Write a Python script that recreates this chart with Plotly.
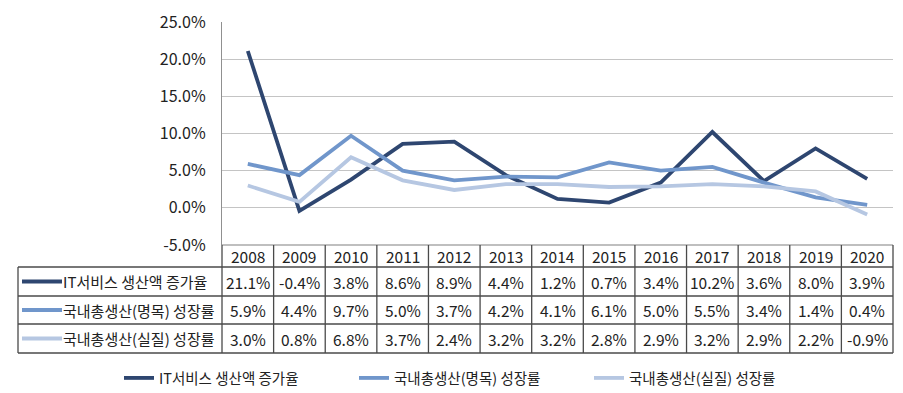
import plotly.graph_objects as go

years = ["2008", "2009", "2010", "2011", "2012", "2013", "2014", "2015", "2016", "2017", "2018", "2019", "2020"]
series_names = ["IT서비스 생산액 증가율", "국내총생산(명목) 성장률", "국내총생산(실질) 성장률"]
it_service = [21.1, -0.4, 3.8, 8.6, 8.9, 4.4, 1.2, 0.7, 3.4, 10.2, 3.6, 8.0, 3.9]
gdp_nominal = [5.9, 4.4, 9.7, 5.0, 3.7, 4.2, 4.1, 6.1, 5.0, 5.5, 3.4, 1.4, 0.4]
gdp_real = [3.0, 0.8, 6.8, 3.7, 2.4, 3.2, 3.2, 2.8, 2.9, 3.2, 2.9, 2.2, -0.9]
y_ticks = [-5, 0, 5, 10, 15, 20, 25]

colors = ["#2E4670", "#7096CB", "#B6C7E2"]
all_series = [it_service, gdp_nominal, gdp_real]

OFF = 8  # default page body margin
W, H = 903 - OFF, 393 - OFF
L, R, T, B = 222 - OFF, 893 - OFF, 22 - OFF, 245 - OFF
FONT = "Noto Sans CJK KR"


def px_x(px):
    return (px - OFF - L) / (R - L)


def px_y(py):
    return (B - (py - OFF)) / (B - T)


fig = go.Figure()
for name, vals, c in zip(series_names, all_series, colors):
    fig.add_trace(go.Scatter(x=years, y=vals, mode="lines", name=name,
                             line=dict(color=c, width=3.8)))

shapes = []
annotations = []
border = "#4A4A4A"
row_y = [245, 267, 296, 324, 353]
tbl_left = 18
n = len(years)
cw = (893 - 222) / n

# horizontal lines
shapes.append(dict(type="line", xref="paper", yref="paper", x0=px_x(222), x1=px_x(893),
                   y0=px_y(245), y1=px_y(245), line=dict(color="#808080", width=1.2)))
for yy in row_y[1:]:
    shapes.append(dict(type="line", xref="paper", yref="paper", x0=px_x(tbl_left), x1=px_x(893),
                       y0=px_y(yy), y1=px_y(yy), line=dict(color=border, width=1.3)))
# vertical lines
shapes.append(dict(type="line", xref="paper", yref="paper", x0=px_x(tbl_left), x1=px_x(tbl_left),
                   y0=px_y(267), y1=px_y(353), line=dict(color=border, width=1.3)))
for i in range(n + 1):
    xx = 222 + i * cw
    shapes.append(dict(type="line", xref="paper", yref="paper", x0=px_x(xx), x1=px_x(xx),
                       y0=px_y(245), y1=px_y(353), line=dict(color=border, width=1.3)))

TXT = dict(family=FONT, size=15.5, color="#222")

# header years
for i, yr in enumerate(years):
    annotations.append(dict(x=i, xref="x", y=px_y(256), yref="paper", text=yr, showarrow=False,
                            font=TXT, xanchor="center", yanchor="middle"))

# rows
for r, (name, vals, c) in enumerate(zip(series_names, all_series, colors)):
    yc = (row_y[r + 1] + row_y[r + 2]) / 2
    shapes.append(dict(type="line", xref="paper", yref="paper", x0=px_x(22), x1=px_x(62),
                       y0=px_y(yc), y1=px_y(yc), line=dict(color=c, width=4)))
    annotations.append(dict(x=px_x(61), xref="paper", y=px_y(yc), yref="paper", text=name,
                            showarrow=False, xanchor="left", yanchor="middle",
                            font=dict(family=FONT, size=15, color="#222")))
    for i, v in enumerate(vals):
        annotations.append(dict(x=i, xref="x", y=px_y(yc), yref="paper", text=f"{v:.1f}%",
                                showarrow=False, xanchor="center", yanchor="middle", font=TXT))

fig.update_layout(
    width=W, height=H,
    margin=dict(l=L, r=W - R, t=T, b=H - B, autoexpand=False),
    plot_bgcolor="white", paper_bgcolor="white",
    shapes=shapes, annotations=annotations,
    showlegend=True,
    legend=dict(orientation="h", x=px_x(119), xanchor="left", y=px_y(378), yanchor="middle",
                font=dict(family=FONT, size=14.5, color="#222"), itemwidth=30,
                entrywidth=190, tracegroupgap=0),
    xaxis=dict(type="category", range=[-0.5, n - 0.5], showticklabels=False, showgrid=False,
               showline=False, zeroline=False, ticks="", automargin=False),
    yaxis=dict(range=[-5, 25], tickvals=y_ticks, ticktext=[f"{v:.1f}%" for v in y_ticks],
               showgrid=True, gridcolor="#C4C4C4", gridwidth=1.2, zeroline=True, zerolinecolor="#C4C4C4",
               zerolinewidth=1.2, automargin=False,
               showline=True, linecolor="#909090", linewidth=1.2, ticks="", ticklen=0,
               ticklabelstandoff=12,
               tickfont=dict(family=FONT, size=16, color="#222")),
)

fig.write_html("out.html")
